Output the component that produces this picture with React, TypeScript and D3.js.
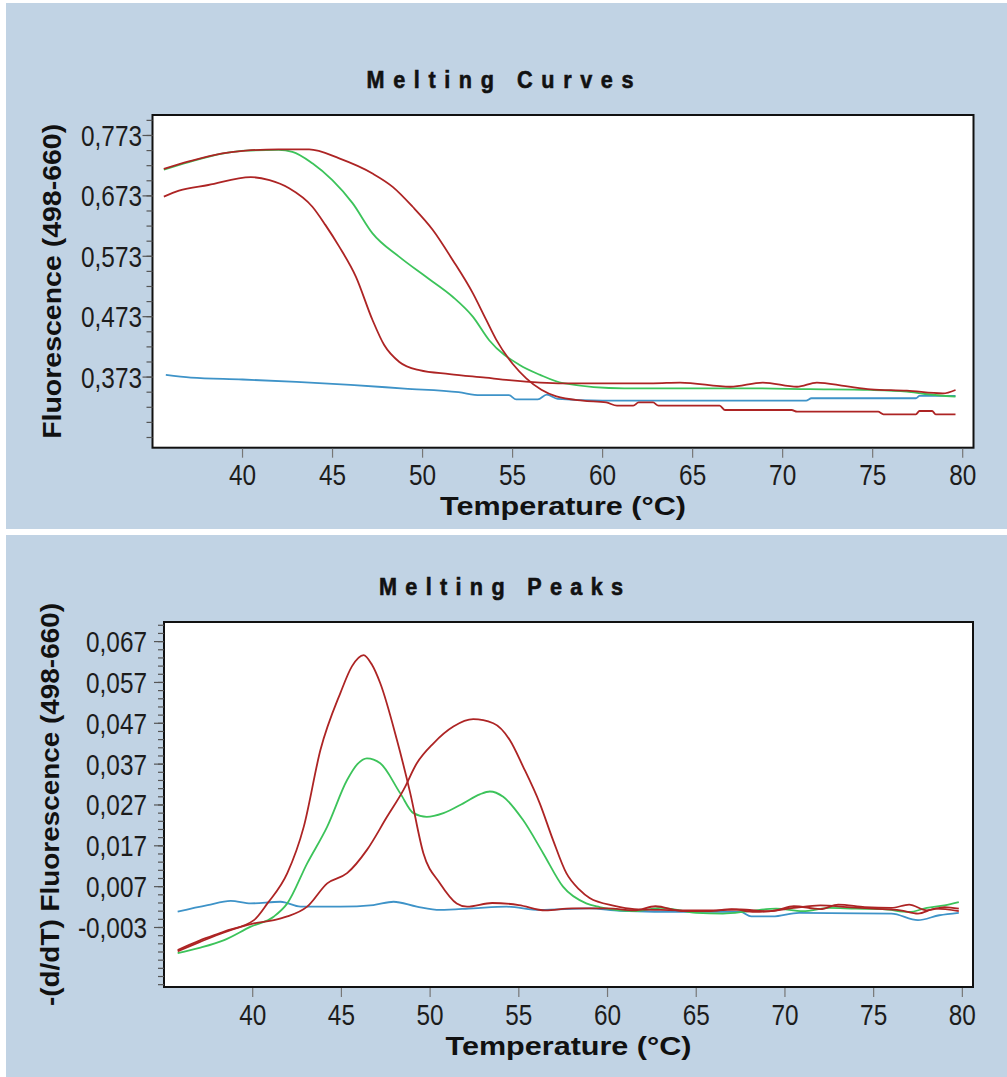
import React from 'react';
import * as d3 from 'd3';

type Pt = [number, number];

// axis ticks
const tempTicks = [40, 45, 50, 55, 60, 65, 70, 75, 80];
const curveTicks = [0.373, 0.473, 0.573, 0.673, 0.773];
const peakTicks = [-0.003, 0.007, 0.017, 0.027, 0.037, 0.047, 0.057, 0.067];

// Melting Curves: [temperature, fluorescence]
const curveRedLate: Pt[] = [
  [35.63, 0.7175], [37.02, 0.73], [38.88, 0.7435], [40.18, 0.748], [42.0, 0.75], [43.7, 0.75],
  [45.37, 0.735], [47.22, 0.71], [48.34, 0.688], [49.45, 0.655], [50.56, 0.617], [51.67, 0.567],
  [52.79, 0.512], [53.53, 0.468], [54.09, 0.435], [55.0, 0.395], [55.76, 0.371], [56.6, 0.352],
  [57.43, 0.341], [58.9, 0.334], [60.2, 0.331], [60.8, 0.3257], [61.7, 0.3257], [62.0, 0.331],
  [62.8, 0.331], [63.1, 0.3257], [66.5, 0.3257], [66.8, 0.3185], [70.5, 0.3185], [70.8, 0.3157],
  [75.3, 0.3157], [75.6, 0.3114], [77.4, 0.3114], [77.6, 0.3169], [78.3, 0.3169], [78.5, 0.3114],
  [79.6, 0.3114],
];
const curveGreen: Pt[] = [
  [35.63, 0.7165], [37.02, 0.729], [38.88, 0.743], [40.18, 0.748], [42.0, 0.749], [42.77, 0.746],
  [43.88, 0.727], [44.99, 0.699], [46.11, 0.661], [47.22, 0.611], [48.71, 0.572], [50.19, 0.539],
  [51.67, 0.506], [52.79, 0.473], [53.7, 0.434], [55.39, 0.393], [56.5, 0.377], [57.8, 0.363],
  [61.2, 0.3544], [64.7, 0.3544], [68.0, 0.3544], [71.5, 0.353], [74.9, 0.3517], [76.9, 0.349],
  [77.9, 0.345], [79.6, 0.3406],
];
const curveRedEarly: Pt[] = [
  [35.63, 0.6717], [36.47, 0.6816], [38.1, 0.691], [40.46, 0.704], [41.5, 0.699], [42.59, 0.6856],
  [43.88, 0.655], [44.6, 0.625], [45.37, 0.589], [46.3, 0.539], [47.22, 0.4675], [47.87, 0.426],
  [48.71, 0.398], [49.82, 0.3844], [51.5, 0.378], [53.5, 0.372], [54.8, 0.368], [57.8, 0.3627],
  [62.8, 0.3627], [64.3, 0.364], [67.1, 0.357], [68.9, 0.364], [70.8, 0.357], [71.9, 0.364],
  [73.5, 0.358], [74.9, 0.3528], [76.9, 0.3505], [78.9, 0.346], [79.6, 0.3517],
];
const curveBlue: Pt[] = [
  [35.74, 0.3765], [37.13, 0.372], [40, 0.369], [43, 0.365], [46, 0.36], [49, 0.354], [52, 0.348],
  [53.2, 0.343], [54.8, 0.343], [55.2, 0.336], [56.4, 0.336], [56.9, 0.344], [57.5, 0.337],
  [60, 0.334], [65, 0.334], [71.3, 0.334], [71.6, 0.338], [77.4, 0.338], [77.6, 0.342], [79.6, 0.342],
];

// Melting Peaks: [temperature, -(d/dT) fluorescence]
const peakRedEarly: Pt[] = [
  [35.77, -0.0085], [37.0, -0.0062], [38.39, -0.004], [40.07, -0.0012], [40.83, 0.0029],
  [41.95, 0.0103], [42.88, 0.0217], [43.82, 0.0405], [44.94, 0.0544], [45.6, 0.061], [46.25, 0.0637],
  [46.7, 0.0615], [47.19, 0.0568], [48.13, 0.0429], [48.88, 0.0299], [49.62, 0.0152], [50.56, 0.0078],
  [51.5, 0.0029], [52.08, 0.0021], [53.5, 0.003], [55.0, 0.0025], [56.5, 0.0012], [58.0, 0.0017],
  [60.0, 0.0017], [61.5, 0.0012], [62.7, 0.0022], [64.2, 0.001], [65.7, 0.001], [67, 0.0015],
  [68.3, 0.0008], [69.5, 0.0012], [70.5, 0.0022], [72, 0.0015], [73, 0.0026], [74.5, 0.002],
  [76, 0.0018], [77, 0.0026], [78, 0.0012], [79, 0.002], [79.8, 0.0016],
];
const peakGreen: Pt[] = [
  [35.77, -0.0093], [37.0, -0.008], [38.39, -0.0061], [39.89, -0.0028], [41.2, -0.0003],
  [41.95, 0.0029], [43.07, 0.0127], [44.2, 0.0217], [45.32, 0.0331], [45.9, 0.037], [46.44, 0.0384],
  [47.19, 0.0372], [48.31, 0.0299], [49.06, 0.025], [49.81, 0.0241], [50.75, 0.025], [51.87, 0.0274],
  [52.8, 0.0296], [53.37, 0.0303], [54.12, 0.029], [55.24, 0.0233], [56.37, 0.0152], [57.49, 0.007],
  [58.8, 0.0029], [59.55, 0.002], [61.5, 0.001], [63, 0.0018], [65, 0.0006], [66.5, 0.0004],
  [68, 0.001], [69.5, 0.0016], [71, 0.001], [72.5, 0.0018], [74, 0.0016], [75.5, 0.0015],
  [77, 0.0008], [78, 0.0018], [79, 0.0024], [79.8, 0.0032],
];
const peakRedLate: Pt[] = [
  [35.77, -0.0088], [37.0, -0.0066], [38.39, -0.0042], [40.07, -0.002], [41.2, -0.0012],
  [41.95, -0.0003], [43.07, 0.0021], [44.2, 0.0078], [45.32, 0.0103], [46.44, 0.016], [47.57, 0.0241],
  [48.5, 0.0307], [49.25, 0.0372], [50.19, 0.0421], [51.31, 0.0462], [52.43, 0.048], [53.56, 0.047],
  [54.49, 0.0429], [55.24, 0.0364], [56.18, 0.0274], [56.93, 0.0184], [57.68, 0.0103], [58.43, 0.0062],
  [58.99, 0.0042], [60.39, 0.0023], [61.5, 0.0015], [63, 0.0013], [64.5, 0.0012], [66, 0.0012],
  [67.5, 0.0014], [69, 0.001], [70.5, 0.0018], [72, 0.0024], [73.5, 0.002], [75, 0.0016],
  [76.5, 0.0012], [77.5, 0.0004], [78.5, 0.0016], [79.8, 0.001],
];
const peakBlue: Pt[] = [
  [35.77, 0.0009], [37.46, 0.0025], [38.76, 0.0035], [39.89, 0.0029], [41.57, 0.0033], [42.7, 0.0021],
  [44.94, 0.0021], [46.8, 0.0025], [47.94, 0.0033], [49.25, 0.0021], [50.56, 0.0013], [52.43, 0.0017],
  [54.31, 0.0021], [56.18, 0.0013], [58.99, 0.0017], [60.7, 0.0011], [64.6, 0.0008], [67.5, 0.0008],
  [68.1, -0.0003], [69.3, -0.0003], [70.8, 0.0006], [76.0, 0.0004], [77.5, -0.0012], [78.7, 0.0],
  [79.8, 0.0006],
];

const RED = '#ad2424';
const GREEN = '#3cc35a';
const BLUE = '#3e93c8';
const BG = '#c1d3e4';
const SANS = "'Liberation Sans', Arial, sans-serif";
const SQUEEZE = 0.84; // tick labels are a tall, narrow face
const TITLE_SQUEEZE = 0.9;

const fmt = (v: number) => v.toFixed(3).replace('.', ',');

function Panel(props: any) {
  const { box, yDomain, yTicks, minor, series, title, titleX, titleY, titleLen, yLabel, yLabelX, yLabelLen, xLabelY, tickLabelY, yTickRight } = props;
  const x = d3.scaleLinear().domain([35, 80.6]).range([box.left, box.right]);
  const y = d3.scaleLinear().domain(yDomain).range([box.bottom, box.top]);
  const line = d3.line<Pt>().x(d => x(d[0])).y(d => y(d[1])).curve(d3.curveMonotoneX);
  const minorTicks = d3.range(minor.from, yDomain[1], minor.step);
  const cx = (box.left + box.right) / 2;
  const cy = (box.top + box.bottom) / 2;

  return (
    <g>
      <text transform={`translate(${titleX},${titleY}) scale(${TITLE_SQUEEZE},1)`} textAnchor="middle"
        fontFamily={SANS} fontWeight="bold" fontSize={24} textLength={titleLen / TITLE_SQUEEZE}
        lengthAdjust="spacing" fill="#111" stroke="#111" strokeWidth={0.6}>{title}</text>
      <rect x={box.left} y={box.top} width={box.right - box.left} height={box.bottom - box.top} fill="#fff" />
      <g>
        {series.map((s: any, i: number) => (
          <path key={i} d={line(s.data) || ''} fill="none" stroke={s.color} strokeWidth={1.8} />
        ))}
      </g>
      <rect x={box.left} y={box.top} width={box.right - box.left} height={box.bottom - box.top} fill="none" stroke="#111" strokeWidth={2} />
      {minorTicks.map((v: number, i: number) => (
        <line key={'m' + i} x1={box.left - 6} x2={box.left} y1={y(v)} y2={y(v)} stroke="#555" strokeWidth={1.2} />
      ))}
      {yTicks.map((v: number) => (
        <g key={'y' + v}>
          <line x1={box.left - 10} x2={box.left} y1={y(v)} y2={y(v)} stroke="#555" strokeWidth={1.2} />
          <text transform={`translate(${yTickRight},${y(v) + 10.5}) scale(${SQUEEZE},1)`} textAnchor="end"
            fontFamily={SANS} fontSize={29} fill="#1c1c1c">{fmt(v)}</text>
        </g>
      ))}
      {tempTicks.map(t => (
        <g key={'x' + t}>
          <line x1={x(t)} x2={x(t)} y1={box.bottom + 1} y2={box.bottom + 10} stroke="#777" strokeWidth={1.2} />
          <text transform={`translate(${x(t)},${tickLabelY}) scale(${SQUEEZE},1)`} textAnchor="middle"
            fontFamily={SANS} fontSize={29} fill="#1c1c1c">{t}</text>
        </g>
      ))}
      <text x={cx} y={xLabelY} textAnchor="middle" fontFamily={SANS} fontWeight="bold" fontSize={25}
        textLength={246} lengthAdjust="spacingAndGlyphs" fill="#111">Temperature (°C)</text>
      <text transform={`translate(${yLabelX},${cy}) rotate(-90)`} textAnchor="middle" fontFamily={SANS} fontWeight="bold"
        fontSize={25} textLength={yLabelLen} lengthAdjust="spacingAndGlyphs" fill="#111">{yLabel}</text>
    </g>
  );
}

export default function App() {
  return (
    <svg width={1007} height={1077} style={{ position: 'absolute', left: 0, top: 0 }}>
      <rect x={0} y={0} width={1007} height={1077} fill="#fff" />
      <rect x={6} y={3} width={1001} height={526} fill={BG} />
      <rect x={6} y={535} width={1001} height={542} fill={BG} />
      <Panel
        box={{ left: 152.5, right: 973.5, top: 115, bottom: 447.7 }}
        yDomain={[0.2561, 0.8069]}
        yTicks={curveTicks}
        minor={{ from: 0.273, step: 0.025 }}
        series={[
          { data: curveBlue, color: BLUE },
          { data: curveGreen, color: GREEN },
          { data: curveRedEarly, color: RED },
          { data: curveRedLate, color: RED },
        ]}
        title="Melting Curves" titleX={500} titleY={88} titleLen={267}
        yLabel="Fluorescence (498-660)" yLabelX={61} yLabelLen={315}
        xLabelY={515} tickLabelY={485} yTickRight={142}
      />
      <Panel
        box={{ left: 164, right: 973, top: 622, bottom: 987 }}
        yDomain={[-0.01757, 0.0718]}
        yTicks={peakTicks}
        minor={{ from: -0.017, step: 0.002 }}
        series={[
          { data: peakBlue, color: BLUE },
          { data: peakGreen, color: GREEN },
          { data: peakRedLate, color: RED },
          { data: peakRedEarly, color: RED },
        ]}
        title="Melting Peaks" titleX={501} titleY={595} titleLen={244}
        yLabel="-(d/dT) Fluorescence (498-660)" yLabelX={59} yLabelLen={403}
        xLabelY={1055} tickLabelY={1025} yTickRight={147}
      />
    </svg>
  );
}
